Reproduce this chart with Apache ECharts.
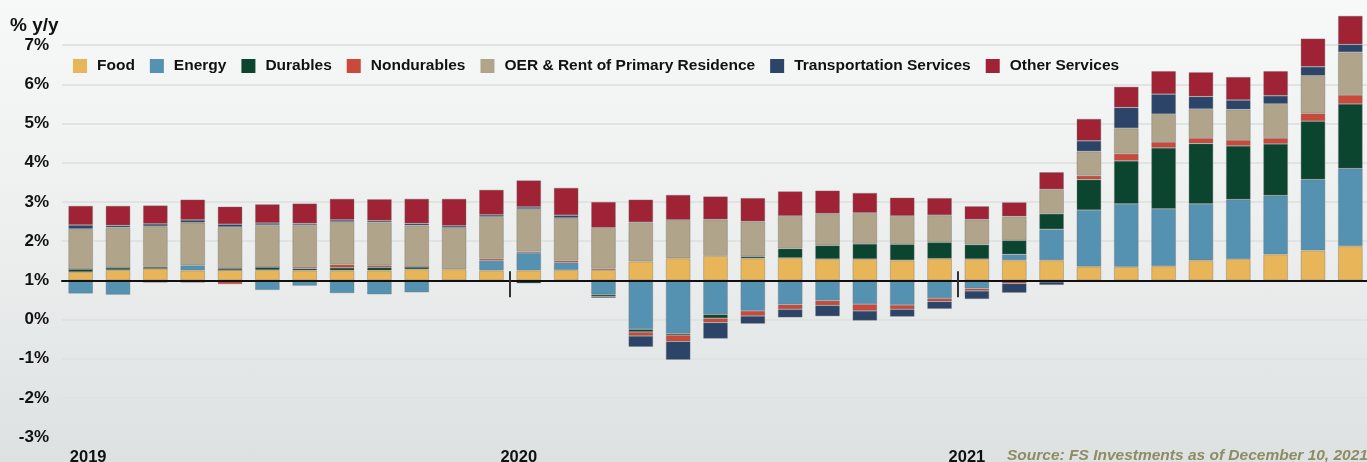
<!DOCTYPE html>
<html>
<head>
<meta charset="utf-8">
<title>CPI contributions</title>
<script src="https://cdn.jsdelivr.net/npm/echarts@6/dist/echarts.min.js"></script>
<style>
  html, body {
    margin: 0;
    padding: 0;
    width: 1367px;
    height: 462px;
    overflow: hidden;
    background: linear-gradient(to bottom, #f7f8f8 0%, #eceeee 55%, #dde1e1 100%);
  }
  #chart {
    width: 1367px;
    height: 462px;
  }
</style>
</head>
<body>
<div id="chart"></div>
<script>
// months Jan 2019 .. Nov 2021
const months = [
  '2019-01', '2019-02', '2019-03', '2019-04', '2019-05', '2019-06',
  '2019-07', '2019-08', '2019-09', '2019-10', '2019-11', '2019-12',
  '2020-01', '2020-02', '2020-03', '2020-04', '2020-05', '2020-06',
  '2020-07', '2020-08', '2020-09', '2020-10', '2020-11', '2020-12',
  '2021-01', '2021-02', '2021-03', '2021-04', '2021-05', '2021-06',
  '2021-07', '2021-08', '2021-09', '2021-10', '2021-11'
];

const yearLabels = { '2019-01': '2019', '2020-01': '2020', '2021-01': '2021' };

// contribution to y/y CPI, percentage points
const food = [0.21, 0.26, 0.30, 0.25, 0.26, 0.26, 0.25, 0.25, 0.25, 0.28, 0.28, 0.25,
  0.25, 0.26, 0.26, 0.48, 0.56, 0.62, 0.56, 0.57, 0.54, 0.54, 0.51, 0.55,
  0.54, 0.51, 0.51, 0.35, 0.34, 0.36, 0.51, 0.54, 0.66, 0.76, 0.87];
const energy = [-0.34, -0.37, 0, 0.13, 0, -0.25, -0.14, -0.33, -0.36, -0.31, -0.01, 0.25,
  0.45, 0.19, -0.36, -1.25, -1.36, -0.87, -0.78, -0.62, -0.52, -0.61, -0.63, -0.46,
  -0.21, 0.15, 0.79, 1.44, 1.61, 1.46, 1.44, 1.52, 1.50, 1.81, 1.98];
const durables = [0.07, 0.06, 0.04, -0.02, 0.05, 0.07, 0.05, 0.07, 0.08, 0.06, -0.01, -0.02,
  -0.08, -0.04, -0.05, -0.07, -0.04, -0.10, 0.05, 0.24, 0.35, 0.39, 0.41, 0.42,
  0.37, 0.36, 0.40, 0.78, 1.10, 1.56, 1.54, 1.37, 1.32, 1.49, 1.65];
const nondurables = [0, 0, -0.06, -0.04, -0.10, 0, 0.04, 0.08, 0.05, 0, 0, 0.05,
  0.03, 0.05, 0.04, -0.10, -0.16, -0.11, -0.13, -0.12, -0.12, -0.17, -0.11, -0.08,
  -0.06, -0.08, -0.04, 0.10, 0.18, 0.15, 0.14, 0.15, 0.15, 0.20, 0.23];
const oer = [1.03, 1.03, 1.04, 1.09, 1.05, 1.08, 1.07, 1.09, 1.10, 1.06, 1.06, 1.07,
  1.09, 1.09, 1.04, 1.00, 0.98, 0.93, 0.89, 0.83, 0.81, 0.79, 0.72, 0.69,
  0.64, 0.61, 0.62, 0.62, 0.65, 0.71, 0.74, 0.78, 0.87, 0.96, 1.09];
const transport = [0.10, 0.05, 0.06, 0.07, 0.07, 0.05, 0.04, 0.05, 0.04, 0.05, 0.05, 0.05,
  0.05, 0.07, -0.04, -0.28, -0.47, -0.41, -0.20, -0.21, -0.28, -0.25, -0.19, -0.19,
  -0.21, -0.24, -0.08, 0.27, 0.53, 0.51, 0.32, 0.24, 0.21, 0.23, 0.20];
const otherServices = [0.49, 0.50, 0.47, 0.52, 0.45, 0.48, 0.51, 0.54, 0.55, 0.63, 0.69, 0.64,
  0.68, 0.70, 0.66, 0.58, 0.64, 0.59, 0.60, 0.63, 0.59, 0.51, 0.47, 0.44,
  0.34, 0.36, 0.44, 0.56, 0.53, 0.59, 0.62, 0.59, 0.63, 0.72, 0.73];

const seriesNames = ['Food', 'Energy', 'Durables', 'Nondurables',
  'OER & Rent of Primary Residence', 'Transportation Services', 'Other Services'];
const seriesData = [food, energy, durables, nondurables, oer, transport, otherServices];
const colors = ['#e8b558', '#5592b2', '#0b4530', '#c94a3a', '#b0a58a', '#2c4468', '#a02235'];

const fontFamily = '"Liberation Sans", Arial, sans-serif';

const myChart = echarts.init(document.getElementById('chart'), null, { renderer: 'canvas' });

const option = {
  backgroundColor: 'transparent',
  color: colors,
  animation: false,
  textStyle: { fontFamily: fontFamily },
  grid: {
    left: 62,
    right: -2,
    top: 6,
    bottom: 25,
    containLabel: false,
    outerBoundsMode: 'none'
  },
  legend: {
    left: 73,
    top: 58,
    padding: 0,
    itemWidth: 14,
    itemHeight: 14,
    itemGap: 15,
    icon: 'rect',
    itemStyle: { borderWidth: 0 },
    textStyle: {
      fontFamily: fontFamily,
      fontWeight: 'bold',
      fontSize: 15.5,
      color: '#111',
      padding: [0, 0, 0, 5]
    },
    data: seriesNames
  },
  graphic: [
    {
      type: 'text',
      left: 10,
      top: 16,
      style: {
        text: '% y/y',
        font: 'bold 19px ' + fontFamily,
        fill: '#111'
      }
    },
    {
      type: 'text',
      left: 1007,
      top: 448,
      style: {
        text: 'Source: FS Investments as of December 10, 2021',
        font: 'italic bold 15.5px ' + fontFamily,
        fill: '#8e8c62'
      }
    }
  ],
  xAxis: [
    {
      // zero line with year-boundary ticks (lower part)
      type: 'category',
      data: months,
      position: 'bottom',
      z: 5,
      axisLine: {
        show: true,
        onZero: true,
        onZeroAxisIndex: 0,
        lineStyle: { color: '#111', width: 2 }
      },
      axisTick: {
        show: true,
        length: 17,
        interval: (index) => index === 12 || index === 24,
        lineStyle: { color: '#333', width: 2 }
      },
      axisLabel: { show: false },
      splitLine: { show: false }
    },
    {
      // upper part of the boundary ticks
      type: 'category',
      data: months,
      position: 'top',
      z: 5,
      axisLine: {
        show: true,
        onZero: true,
        onZeroAxisIndex: 0,
        lineStyle: { color: 'rgba(0,0,0,0)', width: 0 }
      },
      axisTick: {
        show: true,
        length: 9,
        interval: (index) => index === 12 || index === 24,
        lineStyle: { color: '#333', width: 2 }
      },
      axisLabel: { show: false },
      splitLine: { show: false }
    },
    {
      // year labels along the bottom
      type: 'category',
      data: months,
      position: 'bottom',
      axisLine: { show: false, onZero: false },
      axisTick: { show: false },
      axisLabel: {
        interval: 0,
        margin: 12,
        formatter: (value, index) => {
          const y = yearLabels[value];
          if (!y) return '';
          return index === 0 ? '{first|' + y + '}' : '{year|' + y + '}';
        },
        rich: {
          first: {
            fontFamily: fontFamily,
            fontWeight: 'bold',
            fontSize: 16.5,
            color: '#111',
            padding: [0, 0, 0, 15]
          },
          year: {
            fontFamily: fontFamily,
            fontWeight: 'bold',
            fontSize: 16.5,
            color: '#111',
            padding: [0, 20, 0, 0]
          }
        }
      },
      splitLine: { show: false }
    }
  ],
  yAxis: {
    type: 'value',
    min: -4,
    max: 7,
    interval: 1,
    axisLine: { show: false },
    axisTick: { show: false },
    axisLabel: {
      showMaxLabel: false,
      margin: 13,
      fontFamily: fontFamily,
      fontWeight: 'bold',
      fontSize: 17,
      color: '#111',
      // the source chart labels its zero line as 1%
      formatter: (v) => (v + 1) + '%'
    },
    splitLine: {
      show: true,
      showMaxLine: false,
      lineStyle: { color: '#e1e3e3', width: 2 }
    }
  },
  series: seriesNames.map((name, i) => ({
    name: name,
    type: 'bar',
    stack: 'cpi',
    xAxisIndex: 0,
    barWidth: '66%',
    data: seriesData[i],
    itemStyle: {
      color: colors[i],
      borderColor: 'rgba(110,110,110,0.45)',
      borderWidth: 0.8
    }
  }))
};

myChart.setOption(option);
</script>
</body>
</html>
